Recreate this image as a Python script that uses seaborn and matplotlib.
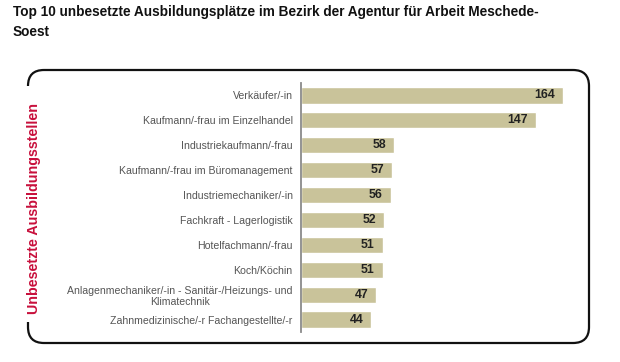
import matplotlib
matplotlib.use("Agg")
import matplotlib.pyplot as plt
import seaborn as sns
import pandas as pd
from matplotlib.patches import FancyBboxPatch, Rectangle

categories = [
    "Verkäufer/-in",
    "Kaufmann/-frau im Einzelhandel",
    "Industriekaufmann/-frau",
    "Kaufmann/-frau im Büromanagement",
    "Industriemechaniker/-in",
    "Fachkraft - Lagerlogistik",
    "Hotelfachmann/-frau",
    "Koch/Köchin",
    "Anlagenmechaniker/-in - Sanitär-/Heizungs- und\nKlimatechnik",
    "Zahnmedizinische/-r Fachangestellte/-r",
]
values = [164, 147, 58, 57, 56, 52, 51, 51, 47, 44]

title = "Top 10 unbesetzte Ausbildungsplätze im Bezirk der Agentur für Arbeit Meschede-\nSoest"
ylabel = "Unbesetzte Ausbildungsstellen"

df = pd.DataFrame({"cat": categories, "val": values})

sns.set_theme(style="white")
plt.rcParams["font.family"] = ["Liberation Sans", "DejaVu Sans"]

fig = plt.figure(figsize=(6.2, 3.62), dpi=100)
ax = fig.add_axes([301/620, 1-332/362, 284/620, 249/362])

sns.barplot(data=df, x="val", y="cat", color="#C9C39A", saturation=1,
            width=0.65, ax=ax, orient="h")
ax.set_xlim(0, 284/1.6)
ax.set_ylim(9.5, -0.5)
ax.set_xlabel("")
ax.set_ylabel("")
ax.set_xticks([])
for s in ["top", "right", "bottom"]:
    ax.spines[s].set_visible(False)
ax.spines["left"].set_color("#8a8a8a")
ax.spines["left"].set_linewidth(1.3)
ax.tick_params(axis="y", length=0, pad=6, labelsize=7.55, labelcolor="#555555")
for lab in ax.get_yticklabels():
    lab.set_multialignment("center")

for i, v in enumerate(values):
    ax.text(v - 5, i, str(v), ha="right", va="center", fontsize=8.8,
            fontweight="bold", color="#222222")

fig.text(13/620, 1-5/362, title, ha="left", va="top", fontsize=9.8,
         fontweight="bold", color="#111111", linespacing=1.5)

# rounded frame
frame = FancyBboxPatch((0.28, 0.19), 5.61, 2.73,
                       boxstyle="round,pad=0,rounding_size=0.16",
                       transform=fig.dpi_scale_trans, fill=False,
                       edgecolor="#111111", linewidth=1.6, zorder=0)
fig.add_artist(frame)
gap = Rectangle((0.24, 0.40), 0.10, 2.36, transform=fig.dpi_scale_trans,
                facecolor="white", edgecolor="none", zorder=1)
fig.add_artist(gap)

fig.text(34/620, 1-208/362, ylabel, rotation=90, ha="center", va="center",
         fontsize=10.3, fontweight="bold", color="#C8103C", zorder=2)

fig.savefig("out.png", dpi=100)
